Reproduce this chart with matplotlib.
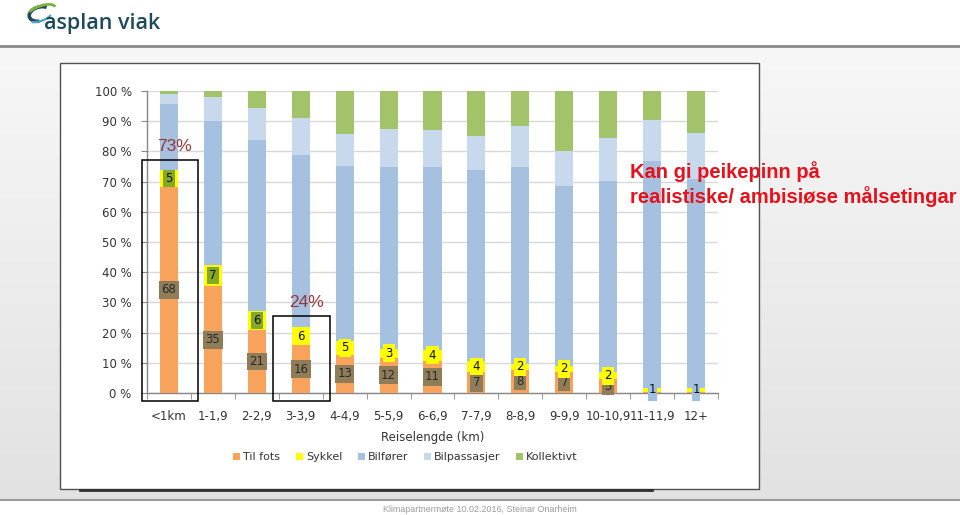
import numpy as np
import matplotlib
matplotlib.use("Agg")
import matplotlib.pyplot as plt
from matplotlib.patches import Rectangle, Patch, Arc

categories = ['<1km', '1-1,9', '2-2,9', '3-3,9', '4-4,9', '5-5,9', '6-6,9',
              '7-7,9', '8-8,9', '9-9,9', '10-10,9', '11-11,9', '12+']
til_fots = [68.3, 35.3, 20.8, 15.8, 12.6, 11.7, 10.6, 6.8, 7.6, 6.9, 4.6, 0.3, 0.3]
sykkel = [5.4, 7.2, 6.4, 6.1, 4.7, 3.0, 3.8, 3.9, 2.1, 2.2, 2.2, 1.2, 1.3]
bilforer = [21.9, 47.5, 56.6, 56.9, 57.8, 60.0, 60.3, 63.1, 65.0, 59.5, 63.3, 75.4, 69.2]
bilpassasjer = [3.5, 7.9, 10.5, 12.4, 10.8, 12.7, 12.4, 11.2, 13.7, 11.6, 14.3, 13.4, 15.4]
kollektivt = [0.9, 2.1, 5.7, 8.8, 14.1, 12.6, 12.9, 15.0, 11.6, 19.8, 15.6, 9.7, 13.8]
series_names = ['Til fots', 'Sykkel', 'Bilfører', 'Bilpassasjer', 'Kollektivt']
series_colors = ['#F8A35C', '#FFFF00', '#A6C0E0', '#C8D9EE', '#A3C36B']
highlight = [0, 3]
highlight_text = ['73%', '24%']
message = ['Kan gi peikepinn på', 'realistiske/ ambisiøse målsetingar']

W, H = 960, 515
fig = plt.figure(figsize=(W / 100, H / 100), dpi=100)
fig.patch.set_facecolor('white')

# ---- slide background (pixel coordinates) ----
bg = fig.add_axes([0, 0, 1, 1], zorder=-5)
bg.set_xlim(0, W)
bg.set_ylim(H, 0)
bg.axis('off')
grad = np.linspace(0, 1, 200)[:, None]
bg.imshow(grad, extent=[0, W, 499, 46], aspect='auto',
          cmap=matplotlib.colors.LinearSegmentedColormap.from_list('g', ['#e2e2e2', '#f7f7f7']),
          origin='lower', zorder=0)
bg.plot([0, W], [45.5, 45.5], color='#8a8a8a', lw=2, zorder=2)
bg.plot([0, W], [499.5, 499.5], color='#9a9a9a', lw=1.5, zorder=2)
bg.add_patch(Rectangle((59.5, 63.3), 699, 425.7, facecolor='white',
                       edgecolor='#505050', lw=1, zorder=3))
bg.plot([80, 652], [490, 490], color='#303030', lw=2, zorder=4)

# logo
bg.add_patch(Arc((40, 14), 22, 14, angle=-15, theta1=110, theta2=330,
                 color='#1e4a5a', lw=2.6, zorder=5))
bg.add_patch(Arc((41, 12), 30, 12, angle=-20, theta1=200, theta2=360,
                 color='#7cb342', lw=2.0, zorder=6))
bg.add_patch(Arc((40, 15), 26, 12, angle=-20, theta1=20, theta2=160,
                 color='#4fa3c7', lw=1.6, zorder=6))
bg.text(44, 29, 'asplan viak', fontsize=15.5, family='Open Sans', fontweight='semibold',
        color='#1e4a5a', ha='left', va='baseline', zorder=6)

# footer
bg.text(383, 509, 'Klimapartnermøte 10.02.2016, Steinar Onarheim', fontsize=6.4,
        color='#9a9a9a', family='Liberation Sans', ha='left', va='center', zorder=6)

# ---- chart ----
ax = fig.add_axes([147 / W, 1 - 393 / H, (718 - 147) / W, (393 - 91) / H], zorder=2)
ax.patch.set_alpha(0)
x = np.arange(len(categories))
bw = 0.41
series = [til_fots, sykkel, bilforer, bilpassasjer, kollektivt]
bottom = np.zeros(len(categories))
for vals, col in zip(series, series_colors):
    ax.bar(x, vals, width=bw, bottom=bottom, color=col, edgecolor='none', zorder=3)
    bottom = bottom + np.array(vals)

ax.set_xlim(-0.5, len(categories) - 0.5)
ax.set_ylim(0, 100)
ax.set_yticks(np.arange(0, 101, 10))
ax.set_yticklabels([f'{v} %' for v in range(0, 101, 10)])
ax.yaxis.grid(True, color='#d9d9d9', lw=1, zorder=0)
ax.set_axisbelow(True)
ax.set_xticks(x)
ax.set_xticklabels(categories)
ax.set_xticks(np.arange(-0.5, len(categories), 1.0), minor=True)
ax.tick_params(axis='x', which='major', length=0, pad=12, labelsize=8.5, labelcolor='#333333')
ax.tick_params(axis='x', which='minor', length=4, color='#888888', direction='out')
ax.tick_params(axis='y', length=4, color='#888888', pad=7, labelsize=8.5, labelcolor='#333333')
for s in ['top', 'right']:
    ax.spines[s].set_visible(False)
for s in ['left', 'bottom']:
    ax.spines[s].set_color('#888888')
    ax.spines[s].set_linewidth(1)
ax.set_xlabel('Reiselengde (km)', fontsize=8.5, color='#333333')
ax.xaxis.set_label_coords(0.5, -0.125)

# data labels
for i in x:
    t = til_fots[i]
    s = sykkel[i]
    if round(t) > 0:
        ax.text(i, t / 2, f'{round(t)}', ha='center', va='center', fontsize=8.5,
                color='#2a2a2a', zorder=5, clip_on=False,
                bbox=dict(boxstyle='square,pad=0.2', fc='#8f7c58', ec='none'))
    if i >= 11:
        ax.add_patch(Rectangle((i - 0.1, -2.5), 0.2, t + s + 4.0, facecolor='#9fc0e0',
                               edgecolor='none', zorder=4, clip_on=False))
        ax.text(i, t + s / 2 + 0.3, f'{round(s)}', ha='center', va='center', fontsize=8.5,
                color='#111111', zorder=5, clip_on=False)
        continue
    fc = '#86a829' if i < 3 else '#FFFF00'
    ax.text(i, t + s / 2, f'{round(s)}', ha='center', va='center', fontsize=8.5,
            color='#111111', zorder=5, clip_on=False,
            bbox=dict(boxstyle='square,pad=0.2', fc=fc, ec='none'))

# highlight boxes
for i, lab in zip(highlight, highlight_text):
    top = til_fots[i] + sykkel[i] + 3.5
    ax.add_patch(Rectangle((i - 0.62, -2.8), 1.29, top + 2.8, fill=False,
                           edgecolor='black', lw=1.1, clip_on=False, zorder=6))
    ax.text(i + 0.12, top + 4.5, lab, fontsize=12.5, color='#953735',
            family='Liberation Sans', ha='center', va='center', zorder=6)

handles = [Patch(facecolor=c, edgecolor='none') for c in series_colors]
fig.legend(handles, series_names, loc='center', bbox_to_anchor=(405.5 / W, 1 - 457 / H),
           ncol=5, frameon=False, fontsize=8, handlelength=0.6, handleheight=0.6,
           handletextpad=0.3, columnspacing=1.4, labelcolor='#333333')

# red message on top of everything
for k, line in enumerate(message):
    fig.text(630 / W, 1 - (172 + 25 * k) / H, line, fontsize=14.5, fontweight='bold',
             family='Liberation Sans', color='#E8101A', ha='left', va='center', zorder=20)

fig.savefig('out.png', dpi=100, facecolor='white')
